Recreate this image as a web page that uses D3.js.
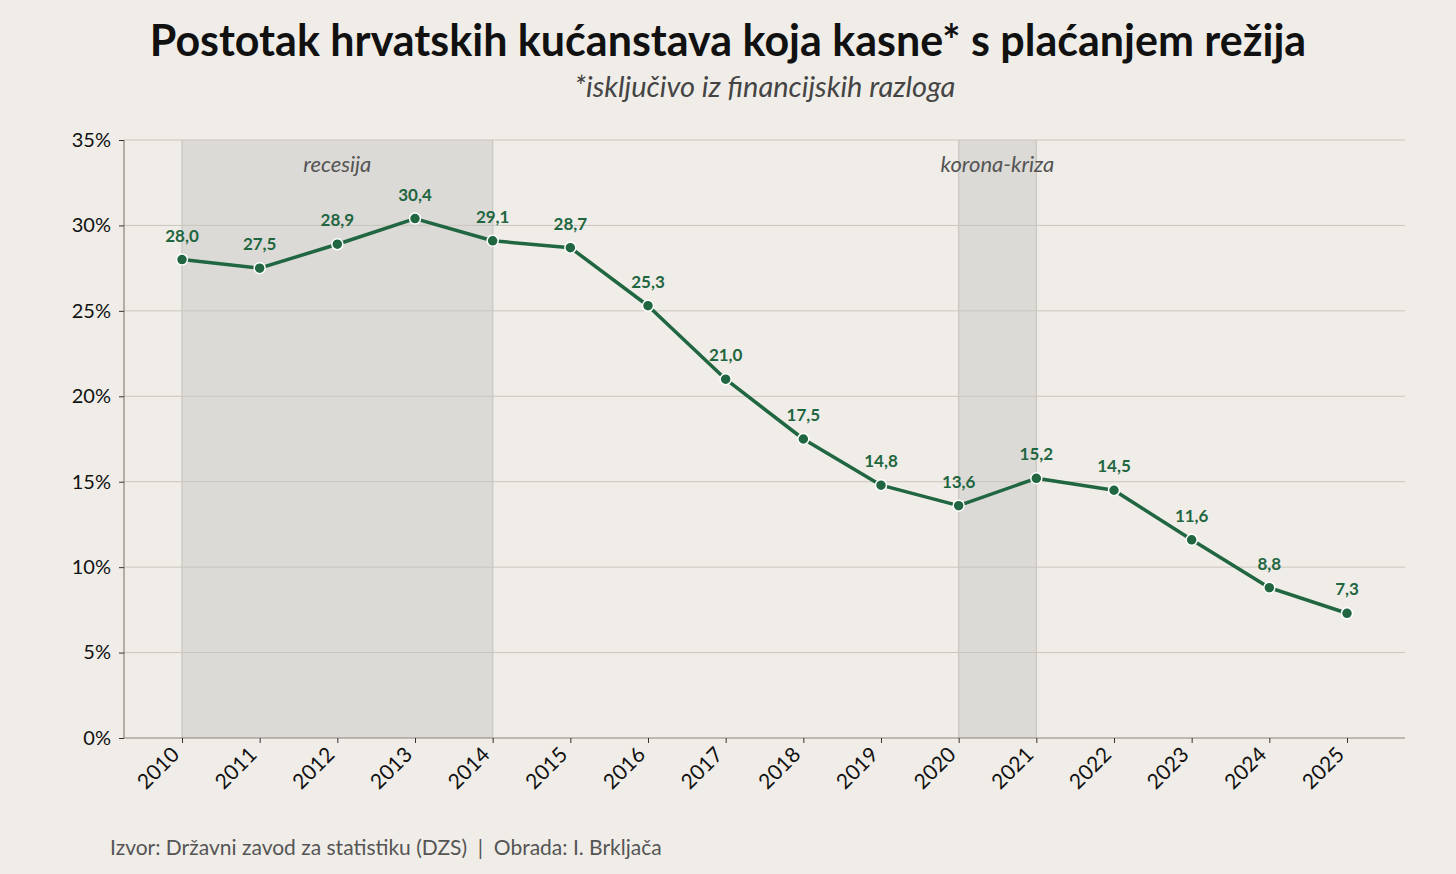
<!DOCTYPE html>
<html><head><meta charset="utf-8">
<script src="https://cdn.jsdelivr.net/npm/d3@7"></script>
<style>
html,body{margin:0;padding:0;background:#f0ede8;}
svg{display:block;font-family:Lato, "Noto Sans", sans-serif;}
</style></head>
<body>
<svg id="c" width="1456" height="874"></svg>
<script>
const years = [2010,2011,2012,2013,2014,2015,2016,2017,2018,2019,2020,2021,2022,2023,2024,2025];
const values = [28.0,27.5,28.9,30.4,29.1,28.7,25.3,21.0,17.5,14.8,13.6,15.2,14.5,11.6,8.8,7.3];
const yTicks = [0,5,10,15,20,25,30,35];
const bands = [{from:2010,to:2014,label:"recesija"},{from:2020,to:2021,label:"korona-kriza"}];
const title = "Postotak hrvatskih kućanstava koja kasne* s plaćanjem režija";
const subtitle = "*isključivo iz financijskih razloga";
const source = "Izvor: Državni zavod za statistiku (DZS)  |  Obrada: I. Brkljača";

const svg = d3.select("#c");
const W=1456,H=874;
svg.append("rect").attr("width",W).attr("height",H).attr("fill","#f0ede8");
const pL=124,pR=1405,pT=140,pB=738;
const x = d3.scaleLinear().domain([2010,2025]).range([182,1347]);
const y = d3.scaleLinear().domain([0,35]).range([pB,pT]);

// bands
bands.forEach(b=>{
  svg.append("rect").attr("x",x(b.from)).attr("y",pT).attr("width",x(b.to)-x(b.from)).attr("height",pB-pT)
    .attr("fill","#dcdad6");
  [b.from,b.to].forEach(v=>svg.append("line").attr("x1",x(v)).attr("x2",x(v)).attr("y1",pT).attr("y2",pB)
    .attr("stroke","#cdcac5").attr("stroke-width",1.5));
});
// grid
svg.append("g").selectAll("line").data(yTicks.filter(d=>d>0)).join("line")
  .attr("x1",pL).attr("x2",pR).attr("y1",d=>y(d)).attr("y2",d=>y(d))
  .attr("stroke","#cbc5bc").attr("stroke-width",1);
// band labels
bands.forEach(b=>{
  svg.append("text").attr("x",(x(b.from)+x(b.to))/2).attr("y",172).attr("text-anchor","middle")
    .attr("font-style","italic").attr("font-size",22).attr("fill","#555").text(b.label);
});
// axes
const yAxis = d3.axisLeft(y).tickValues(yTicks).tickFormat(d=>d+"%").tickSize(5).tickPadding(8);
const gy = svg.append("g").attr("transform",`translate(${pL},0)`).call(yAxis);
gy.select(".domain").attr("stroke","#8a8378").attr("stroke-width",1.2).attr("d",`M0,${pT}V${pB}`);
gy.selectAll(".tick line").attr("stroke","#333");
gy.selectAll(".tick text").attr("font-size",20).attr("fill","#111").attr("font-family","Lato");
const xAxis = d3.axisBottom(x).tickValues(years).tickFormat(d3.format("d")).tickSize(5);
const gx = svg.append("g").attr("transform",`translate(0,${pB})`).call(xAxis);
gx.select(".domain").attr("stroke","#8a8378").attr("stroke-width",1.2).attr("d",`M${pL},0H${pR}`);
gx.selectAll(".tick line").attr("stroke","#333");
gx.selectAll(".tick text").attr("font-size",21).attr("fill","#111").attr("font-family","Lato")
  .attr("text-anchor","end").attr("dy",0).attr("y",0).attr("transform","translate(-2,18) rotate(-45)");
// line
const line = d3.line().x((d,i)=>x(years[i])).y(d=>y(d));
svg.append("path").datum(values).attr("d",line).attr("fill","none").attr("stroke","#1f6641").attr("stroke-width",3.5).attr("stroke-linejoin","round");
svg.append("g").selectAll("circle").data(values).join("circle")
  .attr("cx",(d,i)=>x(years[i])).attr("cy",d=>y(d)).attr("r",5.5)
  .attr("fill","#1f6641").attr("stroke","#fff").attr("stroke-width",1.5);
svg.append("g").selectAll("text").data(values).join("text")
  .attr("x",(d,i)=>x(years[i])).attr("y",d=>y(d)-18).attr("text-anchor","middle")
  .attr("font-size",17).attr("font-weight","bold").attr("fill","#1f6641")
  .text(d=>d.toFixed(1).replace(".",","));
// titles
svg.append("text").attr("x",728).attr("y",56).attr("text-anchor","middle").attr("font-size",43).attr("font-weight","bold").attr("fill","#111").text(title);
svg.append("text").attr("x",765).attr("y",97).attr("text-anchor","middle").attr("font-size",29).attr("font-style","italic").attr("fill","#444").text(subtitle);
svg.append("text").attr("x",110).attr("y",855).attr("font-size",21).attr("fill","#555").style("white-space","pre").text(source);
</script>
</body></html>
